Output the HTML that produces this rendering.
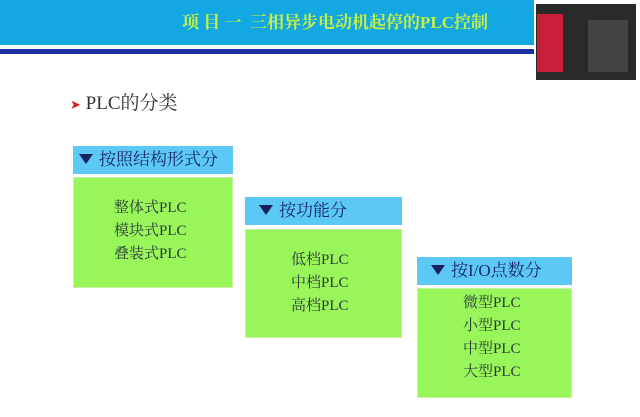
<!DOCTYPE html>
<html><head><meta charset="utf-8"><style>
body{margin:0;width:640px;height:417px;background:#fff;position:relative;overflow:hidden;font-family:"Liberation Serif","Noto Serif CJK SC",serif}
.a{position:absolute}
.hd{background:#5cc8f5;color:#1a2a6a;font-size:17px;line-height:28px;box-sizing:border-box;padding-left:6px;white-space:nowrap;font-family:"Liberation Serif","Noto Serif CJK SC",serif}
.bd{background:#98f55a;border:1px solid #c8f0a0;box-sizing:border-box;color:#2a3a3a;font-size:15px;line-height:23px}
.tri{display:inline-block;width:0;height:0;border-left:7px solid transparent;border-right:7px solid transparent;border-top:10px solid #1a2060;margin-right:6px;vertical-align:1px}
</style></head><body>
<div class="a" style="left:0;top:0;width:534px;height:45px;background:#13a8e2"></div>
<div class="a" style="left:0;top:45px;width:534px;height:4px;background:#fff"></div>
<div class="a" style="left:0;top:49px;width:534px;height:5px;background:#1a2fa0"></div>
<div class="a" style="left:182px;top:8px;font-size:17px;font-weight:bold;color:#c8f040;white-space:nowrap">项 目 一&nbsp; 三相异步电动机起停的PLC控制</div>
<div class="a" style="left:536px;top:4px;width:100px;height:76px;background:#2a2a2a"></div>
<div class="a" style="left:537px;top:14px;width:26px;height:58px;background:#c8203a"></div>
<div class="a" style="left:588px;top:20px;width:40px;height:52px;background:#444"></div>
<div class="a" style="left:70px;top:88px;font-size:19px;color:#333;white-space:nowrap"><span style="color:#d02020;font-size:13px">➤</span> PLC的分类</div>

<div class="a hd" style="left:73px;top:146px;width:160px">
<span class="tri"></span>按照结构形式分</div>
<div class="a bd" style="left:73px;top:177px;width:160px;height:111px;padding:19px 0 0 40px">整体式PLC<br>模块式PLC<br>叠装式PLC</div>

<div class="a hd" style="left:245px;top:197px;width:157px;padding-left:14px">
<span class="tri"></span>按功能分</div>
<div class="a bd" style="left:245px;top:229px;width:157px;height:109px;padding:19px 0 0 45px">低档PLC<br>中档PLC<br>高档PLC</div>

<div class="a hd" style="left:417px;top:257px;width:155px;padding-left:14px">
<span class="tri"></span>按I/O点数分</div>
<div class="a bd" style="left:417px;top:288px;width:155px;height:110px;padding:3px 0 0 45px">微型PLC<br>小型PLC<br>中型PLC<br>大型PLC</div>
</body></html>
